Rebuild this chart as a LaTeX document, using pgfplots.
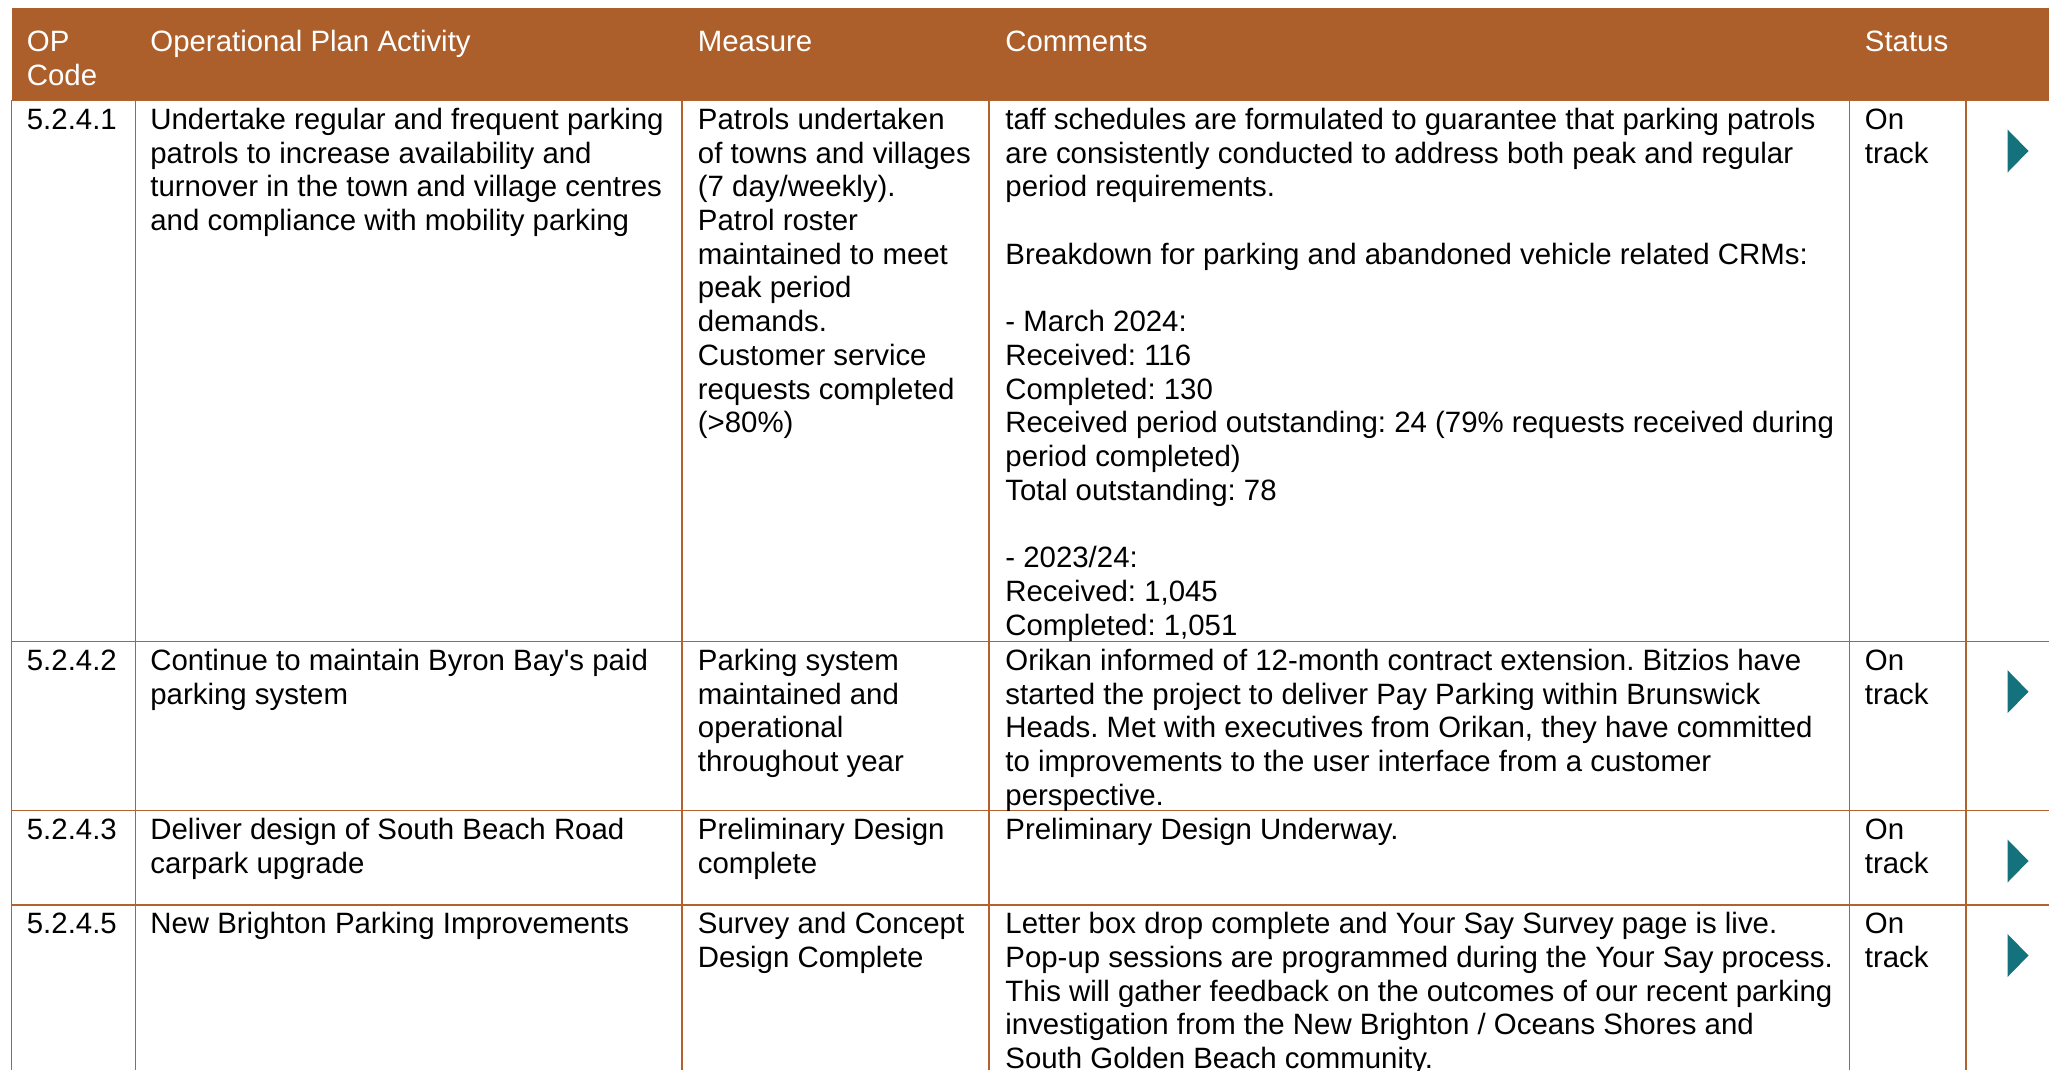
\documentclass[border=0pt]{standalone}
\usepackage{pgfplots}
\pgfplotsset{compat=1.18}
\usepackage{fontspec}
\setmainfont{Liberation Sans}
\definecolor{hdr}{HTML}{AD5F2B}
\definecolor{rulec}{HTML}{B2622C}
\definecolor{arrowc}{HTML}{13727C}
\newcommand\cell[1]{\begin{tabular}[t]{@{}l@{}}#1\end{tabular}}
\tikzset{cell/.style={anchor=base west, inner sep=0pt, font=\fontsize{14.7pt}{16.86pt}\selectfont\frenchspacing, text=black},
         hcell/.style={cell, text=white}}
\begin{document}
\frenchspacing
\begin{tikzpicture}
\begin{axis}[name=ax, x=0.5pt, y=0.5pt, xmin=0, xmax=2049, ymin=0, ymax=1070,
  y dir=reverse, hide axis, scale only axis, clip=true]
% header band
\addplot[fill=hdr, draw=none] coordinates {(11.5,8) (2049,8) (2049,100.5) (11.5,100.5)} -- cycle;
% grid lines
\addplot[rulec, line width=0.75pt] coordinates {(11.5,100.5) (2049,100.5)};
\addplot[rulec, line width=0.75pt] coordinates {(11.5,641.7) (2049,641.7)};
\addplot[rulec, line width=0.75pt] coordinates {(11.5,810.7) (2049,810.7)};
\addplot[rulec, line width=0.75pt] coordinates {(11.5,905) (2049,905)};
\addplot[rulec, line width=0.75pt] coordinates {(11.5,100.5) (11.5,1070)};
\addplot[rulec, line width=0.75pt] coordinates {(135.5,100.5) (135.5,1070)};
\addplot[rulec, line width=0.75pt] coordinates {(682,100.5) (682,1070)};
\addplot[rulec, line width=0.75pt] coordinates {(989,100.5) (989,1070)};
\addplot[rulec, line width=0.75pt] coordinates {(1849.3,100.5) (1849.3,1070)};
\addplot[rulec, line width=0.75pt] coordinates {(1966,100.5) (1966,1070)};
% status arrows
\addplot[fill=arrowc, draw=none] coordinates {(2007.5,129.5) (2028.5,151) (2007.5,172.5)} -- cycle;
\addplot[fill=arrowc, draw=none] coordinates {(2007.5,670.2) (2028.5,691.7) (2007.5,713.2)} -- cycle;
\addplot[fill=arrowc, draw=none] coordinates {(2007.5,839.5) (2028.5,861) (2007.5,882.5)} -- cycle;
\addplot[fill=arrowc, draw=none] coordinates {(2007.5,934) (2028.5,955.5) (2007.5,977)} -- cycle;
% header text
\node[hcell] at (axis cs:26.5,51.7) {\cell{OP\\Code}};
\node[hcell] at (axis cs:150,51.7) {Operational Plan Activity};
\node[hcell] at (axis cs:697.5,51.7) {Measure};
\node[hcell] at (axis cs:1005,51.7) {Comments};
\node[hcell] at (axis cs:1864.5,51.7) {Status};
% row 1
\node[cell] at (axis cs:26.5,129.3) {5.2.4.1};
\node[cell] at (axis cs:150,129.3) {\cell{Undertake regular and frequent parking\\patrols to increase availability and\\turnover in the town and village centres\\and compliance with mobility parking}};
\node[cell] at (axis cs:697.5,129.3) {\cell{Patrols undertaken\\of towns and villages\\(7 day/weekly).\\Patrol roster\\maintained to meet\\peak period\\demands.\\Customer service\\requests completed\\(>80\%)}};
\node[cell] at (axis cs:1005,129.3) {\cell{taff schedules are formulated to guarantee that parking patrols\\are consistently conducted to address both peak and regular\\period requirements.\\ \\Breakdown for parking and abandoned vehicle related CRMs:\\ \\- March 2024:\\Received: 116\\Completed: 130\\Received period outstanding: 24 (79\% requests received during\\period completed)\\Total outstanding: 78\\ \\- 2023/24:\\Received: 1,045\\Completed: 1,051}};
\node[cell] at (axis cs:1864.5,129.3) {\cell{On\\track}};
% row 2
\node[cell] at (axis cs:26.5,670.5) {5.2.4.2};
\node[cell] at (axis cs:150,670.5) {\cell{Continue to maintain Byron Bay\textquotesingle s paid\\parking system}};
\node[cell] at (axis cs:697.5,670.5) {\cell{Parking system\\maintained and\\operational\\throughout year}};
\node[cell] at (axis cs:1005,670.5) {\cell{Orikan informed of 12-month contract extension. Bitzios have\\started the project to deliver Pay Parking within Brunswick\\Heads. Met with executives from Orikan, they have committed\\to improvements to the user interface from a customer\\perspective.}};
\node[cell] at (axis cs:1864.5,670.5) {\cell{On\\track}};
% row 3
\node[cell] at (axis cs:26.5,839.5) {5.2.4.3};
\node[cell] at (axis cs:150,839.5) {\cell{Deliver design of South Beach Road\\carpark upgrade}};
\node[cell] at (axis cs:697.5,839.5) {\cell{Preliminary Design\\complete}};
\node[cell] at (axis cs:1005,839.5) {Preliminary Design Underway.};
\node[cell] at (axis cs:1864.5,839.5) {\cell{On\\track}};
% row 4
\node[cell] at (axis cs:26.5,933.8) {5.2.4.5};
\node[cell] at (axis cs:150,933.8) {New Brighton Parking Improvements};
\node[cell] at (axis cs:697.5,933.8) {\cell{Survey and Concept\\Design Complete}};
\node[cell] at (axis cs:1005,933.8) {\cell{Letter box drop complete and Your Say Survey page is live.\\Pop-up sessions are programmed during the Your Say process.\\This will gather feedback on the outcomes of our recent parking\\investigation from the New Brighton / Oceans Shores and\\South Golden Beach community.}};
\node[cell] at (axis cs:1864.5,933.8) {\cell{On\\track}};
\end{axis}
\pgfresetboundingbox
\path[use as bounding box] (ax.south west) rectangle (ax.north east);
\end{tikzpicture}
\end{document}
